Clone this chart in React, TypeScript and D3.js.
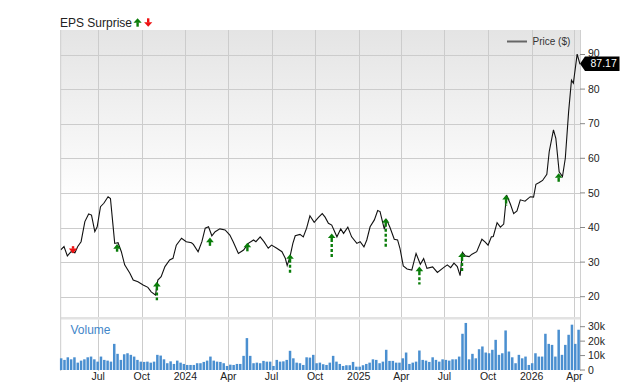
import React from 'react';
import * as d3 from 'd3';

const priceDates = [
  "2023-04-13","2023-04-20","2023-04-27","2023-05-05","2023-05-13","2023-05-19","2023-05-26","2023-06-03","2023-06-11","2023-06-17",
  "2023-06-24","2023-06-29","2023-07-06","2023-07-13","2023-07-22","2023-07-27","2023-08-01","2023-08-05","2023-08-12","2023-08-19",
  "2023-08-26","2023-09-06","2023-09-13","2023-09-23","2023-10-04","2023-10-14","2023-10-21","2023-10-30","2023-11-04","2023-11-11",
  "2023-11-19","2023-11-29","2023-12-06","2023-12-13","2023-12-24","2024-01-03","2024-01-14","2024-01-18","2024-01-28","2024-02-05",
  "2024-02-12","2024-02-19","2024-02-26","2024-03-04","2024-03-14","2024-03-25","2024-04-04","2024-04-11","2024-04-22","2024-05-03",
  "2024-05-13","2024-05-24","2024-05-29","2024-06-07","2024-06-15","2024-06-24","2024-07-01","2024-07-12","2024-07-23","2024-07-30",
  "2024-08-03","2024-08-09","2024-08-15","2024-08-20","2024-08-30","2024-09-06","2024-09-13","2024-09-20","2024-09-29","2024-10-08",
  "2024-10-16","2024-10-22","2024-10-29","2024-11-05","2024-11-16","2024-11-24","2024-11-30","2024-12-09","2024-12-17","2024-12-28",
  "2025-01-04","2025-01-12","2025-01-18","2025-01-25","2025-02-03","2025-02-10","2025-02-15","2025-02-21","2025-02-24","2025-03-01",
  "2025-03-08","2025-03-17","2025-03-24","2025-03-29","2025-04-05","2025-04-13","2025-04-23","2025-05-02","2025-05-11","2025-05-18",
  "2025-05-25","2025-06-06","2025-06-16","2025-06-29","2025-07-07","2025-07-14","2025-07-21","2025-07-28","2025-08-03","2025-08-08",
  "2025-08-14","2025-08-22","2025-08-28","2025-09-07","2025-09-18","2025-09-25","2025-10-01","2025-10-08","2025-10-12","2025-10-20",
  "2025-10-27","2025-11-03","2025-11-09","2025-11-17","2025-11-24","2025-12-01","2025-12-08","2025-12-18","2025-12-29","2026-01-05",
  "2026-01-10","2026-01-17","2026-01-24","2026-02-02","2026-02-07","2026-02-16","2026-02-21","2026-02-28","2026-03-07","2026-03-13",
  "2026-03-20","2026-03-26","2026-03-30","2026-04-07","2026-04-13"
];
const priceValues = [
  33.5,34.5,31.8,33.0,32.7,34.5,35.9,41.7,43.9,43.6,
  38.8,40.2,46.0,47.0,48.9,48.4,41.2,35.4,35.6,33.0,
  29.2,26.8,24.8,24.3,23.4,22.7,21.4,20.5,24.8,25.8,
  28.7,30.6,31.1,34.9,36.9,35.9,35.6,35.1,33.0,35.9,
  39.8,40.2,37.6,38.8,39.6,39.3,37.8,35.9,32.5,33.5,
  35.4,36.4,35.9,37.3,35.9,34.0,34.9,34.0,33.0,31.1,
  29.0,31.6,35.4,37.6,38.0,37.3,39.8,43.4,41.5,42.9,
  44.0,43.0,41.2,40.7,37.3,39.6,38.3,40.1,37.3,35.4,
  35.9,34.4,36.4,40.2,42.2,44.9,44.6,41.2,39.5,42.2,
  40.0,36.6,36.4,34.0,28.9,28.0,27.7,32.5,29.4,31.0,
  28.2,28.6,27.0,28.4,29.2,28.4,29.7,28.7,26.1,32.8,
  31.8,31.6,32.3,33.0,36.6,35.8,34.9,37.3,37.4,41.4,
  40.1,41.0,49.4,46.8,44.0,44.8,48.0,47.6,48.9,48.8,
  52.5,53.0,53.6,55.4,61.9,68.2,65.8,56.1,54.7,60.0,
  73.5,82.6,81.7,90.1,87.17
];

const volumeStart = "2023-04-14";
const volumeK = [
  8.1,7.0,8.8,7.4,8.8,5.1,6.5,7.4,8.8,9.3,
  7.4,5.8,9.3,7.0,6.5,5.8,18.1,11.2,7.0,10.9,
  11.6,10.5,9.3,7.0,5.8,5.6,5.8,5.1,5.8,10.5,
  10.0,7.4,4.7,6.0,4.2,6.5,5.1,4.2,3.5,3.5,
  3.5,4.7,4.7,5.6,6.5,9.3,6.5,5.8,5.6,4.7,
  2.8,3.7,3.5,4.2,4.2,9.8,22.1,9.8,4.7,5.1,
  4.7,6.3,5.8,5.8,2.8,7.0,5.8,6.0,7.0,13.3,
  8.1,5.1,4.7,3.5,8.8,8.6,10.5,4.7,5.1,4.0,
  3.5,5.1,9.8,5.8,
  4.2,2.8,3.3,3.3,5.6,2.3,2.3,3.3,4.2,5.1,
  7.4,7.0,4.7,5.8,14.0,6.3,6.3,5.1,5.1,8.1,
  12.1,4.2,5.1,5.8,13.5,7.0,6.5,5.6,8.8,7.0,
  5.8,7.4,7.0,6.5,7.4,7.4,9.3,25.1,32.6,7.4,
  11.2,8.1,14.4,16.3,12.1,11.6,14.0,20.9,10.5,11.6,
  27.4,12.8,8.8,4.7,10.5,8.1,9.3,3.5,4.7,11.6,
  9.3,9.3,25.1,18.1,17.4,9.3,27.9,10.5,17.4,24.4,
  31.4,18.1,27.9
];

const epsDates = ["2023-05-09","2023-08-10","2023-11-02","2024-02-22","2024-05-11","2024-08-09","2024-11-05","2025-02-27","2025-05-09","2025-08-07","2025-11-08","2026-02-27"];
const epsTop = [34.6,35.2,24.3,37.1,35.6,32.3,38.3,42.7,28.7,32.8,49.4,55.7];
const epsBottom = [32.5,33.0,19.0,34.7,33.0,26.8,31.4,34.4,23.5,27.2,46.6,53.2];
const epsType = ["miss","beat","beat","beat","beat","beat","beat","beat","beat","beat","beat","beat"];

const priceTicks = [20,30,40,50,60,70,80,90];
const volumeTicks = [0,10,20,30];
const lastPriceLabel = "87.17";

const FONT = "'Liberation Sans', Arial, Helvetica, sans-serif";
const GREEN = "#0a7d0a";
const RED = "#ee1111";

const parse = d3.timeParse("%Y-%m-%d");

function UpArrow({ cx, tip, base, w = 7.6, hh = 4.6, sw = 2.4 }: any) {
  const headBase = tip + hh;
  const solidEnd = Math.min(base, headBase + 4);
  return (
    <g>
      <path d={`M${cx},${tip}L${cx + w / 2},${headBase}L${cx - w / 2},${headBase}Z`} fill={GREEN} />
      {solidEnd > headBase && <rect x={cx - sw / 2} y={headBase - 0.3} width={sw} height={solidEnd - headBase + 0.3} fill={GREEN} />}
      {base > solidEnd + 1 && (
        <line x1={cx} x2={cx} y1={solidEnd + 2} y2={base} stroke={GREEN} strokeWidth={sw} strokeDasharray="3,2" />
      )}
    </g>
  );
}

function DownArrow({ cx, top, tip, w = 7.6, hh = 4.6, sw = 2.4 }: any) {
  const headBase = tip - hh;
  return (
    <g>
      <rect x={cx - sw / 2} y={top} width={sw} height={Math.max(0, headBase - top + 0.3)} fill={RED} />
      <path d={`M${cx},${tip}L${cx + w / 2},${headBase}L${cx - w / 2},${headBase}Z`} fill={RED} />
    </g>
  );
}

export default function App() {
  const W = 640, H = 382;
  const left = 60.7, right = 580;
  const priceTop = 30, priceBottom = 317;
  const volTop = 319.5, volBottom = 370;

  const x = d3.scaleTime()
    .domain([parse("2023-04-13") as Date, parse("2026-04-13") as Date])
    .range([left, right]);
  const y = d3.scaleLinear().domain([20, 90]).range([296.7, 54.5]);
  const yv = d3.scaleLinear().domain([0, 30]).range([volBottom, 326.7]);

  const pts = priceDates.map((d, i) => [parse(d) as Date, priceValues[i]] as [Date, number]);
  const line = d3.line<[Date, number]>().x(d => x(d[0])).y(d => y(d[1]));

  const vStart = parse(volumeStart) as Date;
  const bars = volumeK.map((v, i) => ({ date: d3.timeDay.offset(vStart, i * 7), v }));

  const quarterTicks = d3.timeMonth.every(3)!.range(parse("2023-06-01") as Date, parse("2026-04-13") as Date)
    .filter(d => [0, 3, 6, 9].includes(d.getMonth()));
  const fmt = (d: Date) => d.getMonth() === 0 ? d3.timeFormat("%Y")(d) : d3.timeFormat("%b")(d);

  const lastPrice = priceValues[priceValues.length - 1];
  const ly = y(lastPrice) - 0.6;

  return (
    <svg width={W} height={H} style={{ position: 'absolute', left: 0, top: 0, display: 'block', background: '#fff' }} fontFamily={FONT}>
      <defs>
        <linearGradient id="bg" x1="0" y1="0" x2="0" y2="1">
          <stop offset="0" stopColor="#e4e4e4" />
          <stop offset="0.6" stopColor="#ffffff" />
          <stop offset="1" stopColor="#ffffff" />
        </linearGradient>
        <clipPath id="pclip">
          <rect x={left} y={priceTop} width={right - left} height={priceBottom - priceTop} />
        </clipPath>
      </defs>

      {/* title */}
      <text x={60} y={26.5} fontSize={12} fill="#222">EPS Surprise</text>
      <UpArrow cx={137.6} tip={18.3} base={26.7} w={8.2} hh={4.4} sw={2.4} />
      <DownArrow cx={148.2} top={18.3} tip={26.7} w={8.2} hh={4.4} sw={2.4} />

      {/* price panel background */}
      <rect x={left} y={priceTop} width={right - left} height={priceBottom - priceTop} fill="url(#bg)" />
      {/* separator */}
      <rect x={left} y={priceBottom} width={right - left} height={volTop - priceBottom} fill="#e2e2e2" />

      {/* horizontal grid */}
      {priceTicks.map(t => (
        <line key={t} x1={left} x2={right} y1={Math.round(y(t)) + 0.5} y2={Math.round(y(t)) + 0.5} stroke="#cccccc" strokeWidth={1} />
      ))}
      {/* vertical grid */}
      {quarterTicks.map(t => {
        const xx = Math.round(x(t)) + 0.5;
        return (
          <g key={+t}>
            <line x1={xx} x2={xx} y1={priceTop} y2={priceBottom} stroke="#cccccc" />
            <line x1={xx} x2={xx} y1={volTop} y2={volBottom + 1} stroke="#cccccc" />
          </g>
        );
      })}
      {/* borders */}
      <line x1={left} x2={left} y1={priceTop} y2={volBottom + 1} stroke="#cccccc" />
      <line x1={right + 0.5} x2={right + 0.5} y1={priceTop} y2={volBottom + 1} stroke="#d0d0d0" />

      {/* legend */}
      <line x1={507} x2={527} y1={41.5} y2={41.5} stroke="#666" strokeWidth={2} />
      <text x={532.5} y={45} fontSize={10} fill="#333">Price ($)</text>

      {/* price line */}
      <path d={line(pts) || ''} fill="none" stroke="#111" strokeWidth={1.1} clipPath="url(#pclip)" />

      {/* EPS arrows */}
      {epsDates.map((d, i) => {
        const cx = x(parse(d) as Date);
        return epsType[i] === 'beat'
          ? <UpArrow key={d} cx={cx} tip={y(epsTop[i])} base={y(epsBottom[i])} />
          : <DownArrow key={d} cx={cx} top={y(epsTop[i])} tip={y(epsBottom[i])} w={8.4} hh={5} />;
      })}

      {/* volume */}
      <text x={70.5} y={334} fontSize={12} fill="#3f86c9">Volume</text>
      {bars.map((b, i) => {
        const cx = x(b.date);
        return <rect key={i} x={cx - 1.25} y={yv(b.v)} width={2.5} height={volBottom - yv(b.v)} fill="#4a8fd0" />;
      })}

      {/* price axis */}
      {priceTicks.map(t => (
        <g key={t}>
          <line x1={right} x2={right + 5} y1={y(t)} y2={y(t)} stroke="#888" />
          <text x={588} y={y(t) - (t === 90 ? 1 : 0)} dy="0.35em" fontSize={10.5} fill="#222">{t}</text>
        </g>
      ))}
      {/* volume axis */}
      {volumeTicks.map(t => (
        <g key={t}>
          <line x1={right} x2={right + 5} y1={yv(t)} y2={yv(t)} stroke="#888" />
          <text x={588} y={yv(t)} dy="0.35em" fontSize={10.5} fill="#222">{t === 0 ? '0' : `${t}k`}</text>
        </g>
      ))}

      {/* last price label */}
      <path d={`M${right},${ly}L${right + 5},${ly - 7.2}L${right + 39.5},${ly - 7.2}L${right + 39.5},${ly + 7.2}L${right + 5},${ly + 7.2}Z`} fill="#000" />
      <text x={right + 10.5} y={ly} dy="0.36em" fontSize={10.5} fill="#fff">{lastPriceLabel}</text>

      {/* x axis labels */}
      {quarterTicks.map(t => (
        <text key={+t} x={x(t)} y={380} textAnchor="middle" fontSize={10.5} fill="#222">{fmt(t)}</text>
      ))}
    </svg>
  );
}
